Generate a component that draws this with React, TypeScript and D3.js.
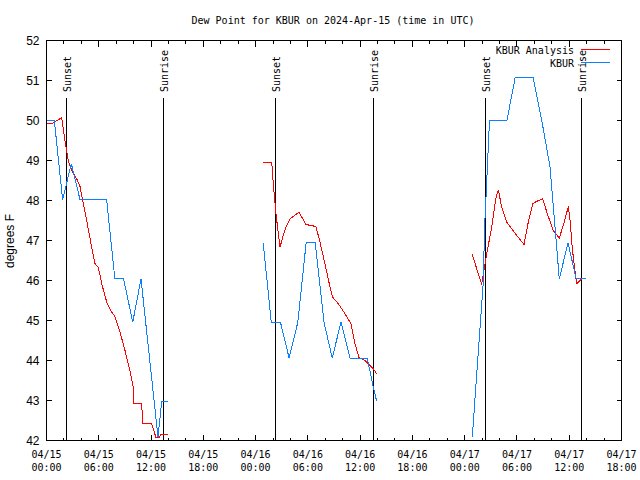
import React from "react";
import * as d3 from "d3";

// ---- data (hours after 2024-04-15 00:00 UTC, dew point °F) ----
const analysisSeg1: [number, number][] = [
  [0.0, 49.93], [0.7, 49.93], [1.74, 50.07], [2.12, 49.5], [2.5, 49.0], [2.89, 48.75],
  [3.47, 48.54], [3.85, 48.35], [4.16, 48.0], [4.68, 47.42], [5.19, 46.83], [5.57, 46.42],
  [5.95, 46.33], [6.34, 45.92], [6.91, 45.46], [7.48, 45.21], [7.86, 45.1], [8.44, 44.71],
  [9.01, 44.25], [9.58, 43.75], [9.96, 43.33], [10.04, 42.92], [10.93, 42.92], [11.04, 42.42],
  [12.07, 42.42], [12.57, 42.07], [12.95, 42.07], [13.11, 42.15], [13.95, 42.15],
];
const analysisSeg2: [number, number][] = [
  [24.89, 48.96], [25.85, 48.96], [26.03, 48.42], [26.34, 47.67], [26.61, 47.17], [26.8, 46.83],
  [27.18, 47.13], [27.57, 47.38], [27.95, 47.54], [28.52, 47.63], [28.98, 47.71], [29.79, 47.4],
  [30.93, 47.35], [31.39, 46.96], [31.96, 46.42], [32.46, 45.92], [32.85, 45.58], [33.49, 45.42],
  [34.26, 45.17], [34.95, 44.92], [35.41, 44.42], [35.87, 44.07], [36.56, 44.0], [36.94, 43.92],
  [37.51, 43.79], [37.9, 43.67],
];
const analysisSeg3: [number, number][] = [
  [48.87, 46.65], [49.95, 45.9], [50.14, 46.17], [50.53, 46.67], [51.1, 47.33], [51.6, 48.08],
  [51.86, 48.27], [52.25, 47.83], [52.82, 47.46], [53.4, 47.29], [53.97, 47.13], [54.81, 46.9],
  [55.3, 47.46], [55.81, 47.92], [56.27, 47.98], [56.96, 48.04], [57.48, 47.67], [58.17, 47.25],
  [58.86, 47.06], [59.32, 47.38], [59.9, 47.85], [60.1, 47.5], [60.35, 46.8], [60.85, 45.92],
  [61.43, 46.04], [61.81, 46.04],
];
const obsSeg1: [number, number][] = [
  [0.0, 50.0], [0.9, 50.0], [1.85, 48.02], [2.85, 48.92], [3.85, 48.02], [6.9, 48.02],
  [7.85, 46.04], [8.85, 46.04], [9.9, 44.96], [10.85, 46.04], [12.8, 42.08], [13.22, 42.98],
  [13.98, 42.98],
];
const obsSeg2: [number, number][] = [
  [24.87, 46.94], [25.8, 44.96], [26.85, 44.96], [27.85, 44.06], [28.85, 44.96], [29.8, 46.94],
  [30.85, 46.94], [31.85, 44.96], [32.8, 44.06], [33.8, 44.96], [34.83, 44.06], [36.82, 44.06],
  [37.44, 43.4], [37.9, 42.98],
];
const obsSeg3: [number, number][] = [
  [48.87, 42.08], [50.12, 45.92], [50.3, 47.4], [50.85, 50.0], [52.85, 50.0], [53.8, 51.08],
  [55.85, 51.08], [56.85, 50.0], [57.8, 48.83], [58.86, 46.04], [59.86, 46.94], [60.8, 46.04],
  [61.9, 46.04],
];
const sunsetHours = [2.32, 26.34, 50.41];
const sunriseHours = [13.4, 37.48, 61.43];
const yTicks = [42, 43, 44, 45, 46, 47, 48, 49, 50, 51, 52];

const T0 = Date.UTC(2024, 3, 15, 0, 0);
const toDate = (h: number) => new Date(T0 + h * 3600 * 1000);

const L = 46.5, R = 621.5, T = 40.5, B = 440.5;
const mono = "'DejaVu Sans Mono', monospace";
const sans = "'Liberation Sans', Arial, sans-serif";

export default function App() {
  const x = d3.scaleUtc().domain([toDate(0), toDate(66)]).range([L, R]);
  const y = d3.scaleLinear().domain([42, 52]).range([B, T]);
  const line = d3
    .line<[number, number]>()
    .x((d) => x(toDate(d[0])))
    .y((d) => y(d[1]));
  const ticks2h = x.ticks(d3.utcHour.every(2)!);
  const fmtD = d3.utcFormat("%m/%d");
  const fmtT = d3.utcFormat("%H:%M");
  const isMajor = (d: Date) => d.getUTCHours() % 6 === 0;

  const red = "#ff0000";
  const blue = "#0a80ff";

  return (
    <svg width={640} height={480} style={{ position: "absolute", left: 0, top: 0, background: "#fff" }}>
      <rect x={0} y={0} width={640} height={480} fill="#fff" />
      <text x={333} y={24} fontFamily={mono} fontSize={10} textAnchor="middle" fill="#000">
        Dew Point for KBUR on 2024-Apr-15 (time in UTC)
      </text>
      {/* y ticks */}
      {yTicks.map((v) => (
        <g key={"y" + v}>
          <line x1={L} x2={L + 5} y1={Math.round(y(v) - 0.5) + 0.5} y2={Math.round(y(v) - 0.5) + 0.5} stroke="#000" shapeRendering="crispEdges" />
          <line x1={R - 5} x2={R} y1={Math.round(y(v) - 0.5) + 0.5} y2={Math.round(y(v) - 0.5) + 0.5} stroke="#000" shapeRendering="crispEdges" />
          <text x={39.5} y={y(v) + 4.5} fontFamily={sans} fontSize={12} textAnchor="end" fill="#000">
            {v}
          </text>
        </g>
      ))}
      {/* x ticks */}
      {ticks2h.map((d, i) => {
        const xx = Math.round(x(d) - 0.5) + 0.5;
        const len = isMajor(d) ? 6 : 3;
        return (
          <g key={"x" + i}>
            <line x1={xx} x2={xx} y1={B} y2={B - len} stroke="#000" shapeRendering="crispEdges" />
            <line x1={xx} x2={xx} y1={T} y2={T + len} stroke="#000" shapeRendering="crispEdges" />
            {isMajor(d) && (
              <text fontFamily={mono} fontSize={10} textAnchor="middle" fill="#000">
                <tspan x={x(d)} y={457.5}>{fmtD(d)}</tspan>
                <tspan x={x(d)} y={470.5}>{fmtT(d)}</tspan>
              </text>
            )}
          </g>
        );
      })}
      <text
        transform={`translate(${14},${241}) rotate(-90)`}
        fontFamily={sans}
        fontSize={12}
        textAnchor="middle"
        fill="#000"
      >
        degrees F
      </text>
      {/* sun lines */}
      {sunsetHours.map((h, i) => {
        const xx = Math.round(x(toDate(h)) - 0.5) + 0.5;
        return (
          <g key={"ss" + i}>
            <line x1={xx} x2={xx} y1={98} y2={B} stroke="#000" shapeRendering="crispEdges" />
            <text transform={`translate(${xx + 4.5},92) rotate(-90)`} fontFamily={mono} fontSize={10} fill="#000">
              Sunset
            </text>
          </g>
        );
      })}
      {sunriseHours.map((h, i) => {
        const xx = Math.round(x(toDate(h)) - 0.5) + 0.5;
        return (
          <g key={"sr" + i}>
            <line x1={xx} x2={xx} y1={98} y2={B} stroke="#000" shapeRendering="crispEdges" />
            <text transform={`translate(${xx + 4.5},92) rotate(-90)`} fontFamily={mono} fontSize={10} fill="#000">
              Sunrise
            </text>
          </g>
        );
      })}
      {/* data */}
      {[analysisSeg1, analysisSeg2, analysisSeg3].map((s, i) => (
        <path key={"a" + i} d={line(s) || ""} fill="none" stroke={red} strokeWidth={1} shapeRendering="crispEdges" />
      ))}
      {[obsSeg1, obsSeg2, obsSeg3].map((s, i) => (
        <path key={"o" + i} d={line(s) || ""} fill="none" stroke={blue} strokeWidth={1} shapeRendering="crispEdges" />
      ))}
      {/* border */}
      <rect x={L} y={T} width={R - L} height={B - T} fill="none" stroke="#000" shapeRendering="crispEdges" />
      {/* legend */}
      <text x={574} y={54} fontFamily={mono} fontSize={10} textAnchor="end" fill="#000">KBUR Analysis</text>
      <line x1={581} x2={610} y1={49.5} y2={49.5} stroke={red} shapeRendering="crispEdges" />
      <text x={574} y={67} fontFamily={mono} fontSize={10} textAnchor="end" fill="#000">KBUR</text>
      <line x1={581} x2={610} y1={62.5} y2={62.5} stroke={blue} shapeRendering="crispEdges" />
    </svg>
  );
}
